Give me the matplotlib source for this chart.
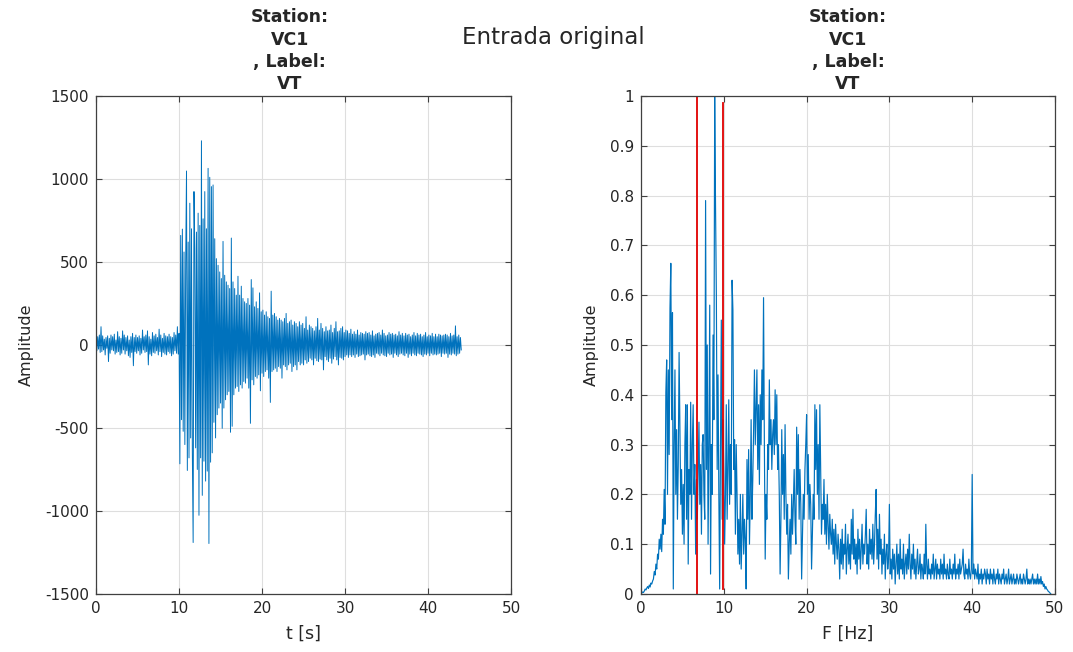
import numpy as np
import matplotlib
matplotlib.use("Agg")
import matplotlib.pyplot as plt

# ---------------- data ----------------
signal = [
    10, -35, 50, -25, 60, -45, 110, -40, 55, -30,
    35, -60, 45, -20, 55, -100, 40, -50, 60, -30,
    50, -35, 65, -55, 30, -45, 80, -40, 50, -60,
    40, -50, 85, -30, 60, -55, 45, -35, 55, -65,
    30, -75, 50, -45, 70, -125, 45, -40, 60, -50,
    45, -35, 55, -60, 40, -50, 90, -30, 50, -45,
    60, -40, 85, -120, 50, -55, 35, -65, 75, -45,
    55, -50, 65, -35, 45, -60, 95, -40, 60, -70,
    40, -45, 70, -55, 55, -60, 50, -40, 65, -50,
    50, -65, 45, -55, 75, -35, 60, -50, 110, -55,
    70, -716, 660, -450, 698, -520, 560, -600, 500, 1048,
    -756, 620, -680, 854, -560, 700, -640, -1190, 924, 580,
    -620, 680, -750, 794, -1026, 720, -680, 1230, -906, 760,
    -700, 924, -820, 700, -760, 1064, -1196, 1010, -706, 954,
    -650, 964, -466, 640, -560, 520, -420, 480, -380, 440,
    -350, 400, -502, 624, -380, 420, -330, 380, -300, 360,
    -280, 340, -526, 644, -490, 380, -300, 340, -260, 300,
    -250, 414, -280, 300, -240, 354, -260, 280, -220, 260,
    -230, 250, -200, 280, -260, 240, -472, 394, -210, 344,
    -240, 230, -190, 260, -200, 220, -180, 314, -276, 200,
    -170, 210, -190, 180, -160, 200, -150, 170, -200, 160,
    -346, 324, -160, 180, -150, 190, -140, 170, -160, 150,
    -130, 160, -140, 150, -200, 140, -120, 160, -130, 190,
    -150, 130, -120, 140, -110, 150, -160, 120, -130, 140,
    -120, 130, -150, 110, -100, 140, -120, 120, -110, 130,
    -120, 100, -90, 170, -110, 90, -100, 120, -80, 110,
    -90, 100, -120, 85, -80, 110, -95, 160, -100, 90,
    -85, 130, -90, 100, -150, 80, -70, 110, -90, 85,
    -100, 90, -80, 120, -110, 75, -85, 100, -70, 140,
    -90, 80, -120, 85, -75, 100, -80, 110, -90, 75,
    -70, 90, -60, 85, -75, 70, -60, 95, -70, 65,
    -60, 80, -75, 65, -55, 90, -70, 60, -65, 75,
    -60, 70, -55, 65, -90, 80, -60, 70, -55, 75,
    -65, 60, -70, 85, -60, 55, -75, 65, -50, 70,
    -55, 75, -65, 60, -50, 90, -60, 70, -65, 55,
    -70, 60, -50, 75, -60, 65, -55, 70, -75, 60,
    -50, 65, -60, 55, -70, 80, -55, 60, -50, 70,
    -60, 55, -65, 70, -50, 60, -75, 65, -55, 50,
    -65, 60, -50, 75, -60, 55, -65, 70, -50, 60,
    -55, 65, -60, 50, -70, 60, -55, 75, -60, 50,
    -50, 60, -65, 55, -50, 70, -60, 50, -55, 65,
    -60, 50, -55, 65, -50, 60, -70, 55, -50, 60,
    -55, 65, -50, 60, -75, 50, -55, 70, -60, 55,
    -50, 60, -55, 115, -65, 50, -55, 60, -50, 45,
    -30,
]
dt = 0.1  # sampling step of the signal [s]

spectrum = [
    0.000, 0.002, 0.004, 0.003, 0.006, 0.010, 0.008, 0.012, 0.015, 0.011,
    0.018, 0.014, 0.022, 0.020, 0.026, 0.030, 0.045, 0.038, 0.060, 0.050,
    0.080, 0.070, 0.110, 0.090, 0.120, 0.085, 0.150, 0.120, 0.210, 0.140,
    0.405, 0.470, 0.200, 0.450, 0.280, 0.574, 0.664, 0.350, 0.565, 0.010,
    0.300, 0.450, 0.200, 0.330, 0.150, 0.260, 0.485, 0.330, 0.180, 0.250,
    0.120, 0.220, 0.100, 0.300, 0.380, 0.150, 0.380, 0.060, 0.250, 0.200,
    0.385, 0.150, 0.300, 0.380, 0.200, 0.260, 0.080, 0.230, 0.150, 0.250,
    0.345, 0.180, 0.260, 0.120, 0.300, 0.320, 0.200, 0.150, 0.790, 0.250,
    0.500, 0.100, 0.300, 0.580, 0.040, 0.300, 0.200, 0.520, 0.350, 1.000,
    0.780, 0.600, 0.250, 0.440, 0.200, 0.010, 0.300, 0.550, 0.150, 0.350,
    0.240, 0.100, 0.200, 0.380, 0.150, 0.250, 0.390, 0.180, 0.300, 0.200,
    0.630, 0.570, 0.250, 0.310, 0.120, 0.300, 0.200, 0.080, 0.150, 0.060,
    0.200, 0.050, 0.120, 0.200, 0.080, 0.150, 0.110, 0.010, 0.270, 0.150,
    0.290, 0.100, 0.200, 0.350, 0.150, 0.230, 0.330, 0.450, 0.300, 0.380,
    0.450, 0.250, 0.380, 0.220, 0.400, 0.300, 0.450, 0.350, 0.595, 0.300,
    0.070, 0.200, 0.150, 0.300, 0.250, 0.430, 0.300, 0.350, 0.250, 0.320,
    0.350, 0.280, 0.410, 0.300, 0.400, 0.250, 0.300, 0.200, 0.040, 0.150,
    0.330, 0.200, 0.280, 0.150, 0.340, 0.200, 0.120, 0.180, 0.030, 0.100,
    0.150, 0.080, 0.200, 0.120, 0.180, 0.250, 0.150, 0.100, 0.335, 0.200,
    0.320, 0.150, 0.250, 0.180, 0.030, 0.120, 0.200, 0.150, 0.250, 0.300,
    0.360, 0.200, 0.280, 0.150, 0.220, 0.180, 0.050, 0.120, 0.200, 0.150,
    0.380, 0.250, 0.370, 0.200, 0.300, 0.150, 0.380, 0.250, 0.120, 0.180,
    0.150, 0.230, 0.120, 0.180, 0.100, 0.200, 0.140, 0.090, 0.160, 0.120,
    0.100, 0.150, 0.080, 0.130, 0.060, 0.140, 0.100, 0.070, 0.120, 0.090,
    0.030, 0.110, 0.060, 0.130, 0.050, 0.100, 0.080, 0.140, 0.040, 0.090,
    0.120, 0.060, 0.100, 0.050, 0.150, 0.080, 0.170, 0.070, 0.110, 0.060,
    0.100, 0.040, 0.130, 0.070, 0.110, 0.050, 0.090, 0.140, 0.060, 0.100,
    0.080, 0.120, 0.170, 0.060, 0.100, 0.050, 0.130, 0.080, 0.110, 0.070,
    0.140, 0.060, 0.100, 0.160, 0.210, 0.070, 0.130, 0.050, 0.160, 0.080,
    0.110, 0.040, 0.090, 0.060, 0.120, 0.030, 0.080, 0.100, 0.050, 0.070,
    0.180, 0.040, 0.070, 0.030, 0.090, 0.050, 0.080, 0.020, 0.060, 0.100,
    0.040, 0.080, 0.030, 0.110, 0.050, 0.070, 0.040, 0.100, 0.030, 0.060,
    0.080, 0.040, 0.090, 0.050, 0.120, 0.060, 0.030, 0.080, 0.050, 0.100,
    0.040, 0.070, 0.030, 0.060, 0.090, 0.040, 0.050, 0.080, 0.030, 0.060,
    0.050, 0.030, 0.080, 0.040, 0.140, 0.060, 0.030, 0.070, 0.040, 0.050,
    0.030, 0.060, 0.040, 0.080, 0.030, 0.050, 0.070, 0.030, 0.060, 0.040,
    0.050, 0.030, 0.070, 0.040, 0.060, 0.030, 0.080, 0.040, 0.050, 0.030,
    0.060, 0.040, 0.030, 0.070, 0.040, 0.050, 0.030, 0.060, 0.040, 0.080,
    0.030, 0.050, 0.040, 0.060, 0.030, 0.070, 0.040, 0.050, 0.060, 0.090,
    0.040, 0.030, 0.060, 0.040, 0.050, 0.030, 0.070, 0.040, 0.030, 0.050,
    0.240, 0.040, 0.060, 0.030, 0.050, 0.040, 0.030, 0.060, 0.020, 0.040,
    0.030, 0.050, 0.020, 0.040, 0.030, 0.050, 0.040, 0.020, 0.050, 0.030,
    0.040, 0.020, 0.050, 0.030, 0.040, 0.020, 0.050, 0.030, 0.020, 0.040,
    0.030, 0.050, 0.020, 0.040, 0.030, 0.020, 0.040, 0.030, 0.050, 0.020,
    0.030, 0.040, 0.020, 0.030, 0.050, 0.020, 0.030, 0.040, 0.020, 0.030,
    0.040, 0.020, 0.030, 0.020, 0.040, 0.030, 0.020, 0.030, 0.040, 0.020,
    0.030, 0.020, 0.040, 0.030, 0.020, 0.030, 0.050, 0.020, 0.030, 0.020,
    0.030, 0.020, 0.030, 0.040, 0.020, 0.030, 0.020, 0.030, 0.020, 0.040,
    0.020, 0.030, 0.020, 0.035, 0.020, 0.025, 0.015, 0.020, 0.010, 0.015,
    0.010, 0.008, 0.005, 0.004, 0.002, 0.000,
]
df = 0.1  # frequency step [Hz]

band_freqs = [6.8, 9.95]
band_lo = [0.0, 0.01]
band_hi = [1.0, 0.985]

left_xticks = [0, 10, 20, 30, 40, 50]
left_yticks = [-1500, -1000, -500, 0, 500, 1000, 1500]
right_xticks = [0, 10, 20, 30, 40, 50]
right_yticks = [0, 0.1, 0.2, 0.3, 0.4, 0.5, 0.6, 0.7, 0.8, 0.9, 1]
right_yticklabels = ["0", "0.1", "0.2", "0.3", "0.4", "0.5", "0.6", "0.7", "0.8", "0.9", "1"]

title_text = "Station:\nVC1\n, Label:\nVT"
suptitle_text = "Entrada original"

# ---------------- plotting ----------------
plt.rcParams['font.family'] = ['DejaVu Sans']
plt.rcParams['axes.unicode_minus'] = False
BLUE = '#0072BD'
TXT = '#262626'
SPINE = '#404040'

t = np.arange(len(signal)) * dt
f = np.arange(len(spectrum)) * df

fig = plt.figure(figsize=(10.73, 6.52), dpi=100)
axL = fig.add_axes([0.0895, 0.0890, 0.3868, 0.7638])
axR = fig.add_axes([0.5974, 0.0890, 0.3858, 0.7638])


def style(ax):
    ax.grid(True, color='#dedede', linewidth=0.8)
    ax.set_axisbelow(True)
    for s in ax.spines.values():
        s.set_color(SPINE)
        s.set_linewidth(0.9)
    ax.tick_params(direction='in', top=True, right=True, length=4,
                   color=SPINE, labelsize=11, labelcolor=TXT, pad=5)


axL.plot(t, signal, color=BLUE, linewidth=0.7)
axL.set_xlim(0, 50)
axL.set_ylim(-1500, 1500)
axL.set_xticks(left_xticks)
axL.set_yticks(left_yticks)
style(axL)
axL.set_xlabel("t [s]", fontsize=12.5, color=TXT, labelpad=6)
axL.set_ylabel("Amplitude", fontsize=11.5, color=TXT, labelpad=8)
axL.set_title(title_text, fontsize=12.5, fontweight='bold', color=TXT,
              linespacing=1.3, pad=5, x=0.467)

axR.plot(f, spectrum, color=BLUE, linewidth=0.85)
for bf, lo, hi in zip(band_freqs, band_lo, band_hi):
    axR.plot([bf, bf], [lo, hi], color='#E00000', linewidth=1.3)
axR.set_xlim(0, 50)
axR.set_ylim(0, 1)
axR.set_xticks(right_xticks)
axR.set_yticks(right_yticks)
axR.set_yticklabels(right_yticklabels)
style(axR)
axR.set_xlabel("F [Hz]", fontsize=12.5, color=TXT, labelpad=6)
axR.set_ylabel("Amplitude", fontsize=11.5, color=TXT, labelpad=8)
axR.set_title(title_text, fontsize=12.5, fontweight='bold', color=TXT,
              linespacing=1.3, pad=5)

fig.text(0.516, 0.943, suptitle_text, fontsize=16.5, color=TXT,
         ha='center', va='center')

fig.savefig("out.png", dpi=100)
